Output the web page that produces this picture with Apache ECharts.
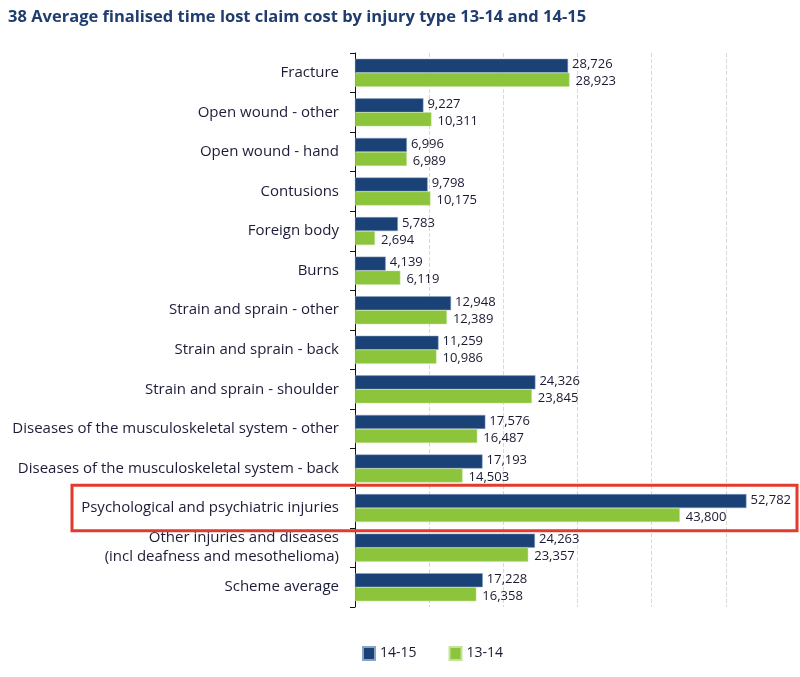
<!DOCTYPE html>
<html><head><meta charset="utf-8">
<script src="https://cdn.jsdelivr.net/npm/echarts@6/dist/echarts.min.js"></script>
<style>html,body{margin:0;padding:0;background:#fff}#c{width:800px;height:677px}</style>
</head><body><div id="c"></div>
<script>
const categories = [
  "Fracture","Open wound - other","Open wound - hand","Contusions","Foreign body","Burns",
  "Strain and sprain - other","Strain and sprain - back","Strain and sprain - shoulder",
  "Diseases of the musculoskeletal system - other","Diseases of the musculoskeletal system - back",
  "Psychological and psychiatric injuries",
  "Other injuries and diseases\n(incl deafness and mesothelioma)","Scheme average"
];
const v1415 = [28726,9227,6996,9798,5783,4139,12948,11259,24326,17576,17193,52782,24263,17228];
const v1314 = [28923,10311,6989,10175,2694,6119,12389,10986,23845,16487,14503,43800,23357,16358];
const seriesNames = ["14-15","13-14"];
const highlighted = "Psychological and psychiatric injuries";

const chart = echarts.init(document.getElementById('c'));
const fmt = p => p.value.toLocaleString('en-US');
const font = "'Open Sans', 'Noto Sans', sans-serif";
chart.setOption({
  animation:false,
  title:{text:"38 Average finalised time lost claim cost by injury type 13-14 and 14-15",left:3,top:4,
    textStyle:{fontFamily:font,fontSize:16.5,fontWeight:'bold',color:'#1f3d6e'}},
  grid:{left:355,right:0,top:53,bottom:70,containLabel:false},
  legend:{bottom:11,left:357,itemWidth:12,itemHeight:13,itemGap:32,icon:'rect',
    textStyle:{fontFamily:font,fontSize:14,color:'#1a1a33'},data:seriesNames},
  xAxis:{type:'value',min:0,max:60000,interval:10000,axisLabel:{show:false},axisLine:{show:false},axisTick:{show:false},
    splitLine:{show:true,lineStyle:{type:'dashed',color:'#d8d8d8',width:1}}},
  yAxis:{type:'category',data:categories,inverse:true,
    axisLine:{show:true,lineStyle:{color:'#111',width:1}},
    axisTick:{show:true,length:5,lineStyle:{color:'#111'}},
    axisLabel:{fontFamily:font,fontSize:15,color:'#1c1c38',margin:16,lineHeight:19}},
  series:[
    {name:seriesNames[0],type:'bar',data:v1415,barWidth:14,barGap:'0%',
     itemStyle:{color:'#1b4277',borderColor:'#8aa2c4',borderWidth:0.5},
     label:{show:true,position:'right',distance:4,formatter:fmt,fontFamily:font,fontSize:13,color:'#1a1a33',offset:[0,-1]}},
    {name:seriesNames[1],type:'bar',data:v1314,barWidth:14,
     itemStyle:{color:'#8cc43c',borderColor:'#c4e29c',borderWidth:0.5},
     label:{show:true,position:'right',distance:6,formatter:fmt,fontFamily:font,fontSize:13,color:'#1a1a33',offset:[0,2]}}
  ]
});
const idx = categories.indexOf(highlighted);
const yTop = chart.convertToPixel({yAxisIndex:0}, idx);
const band = 554/categories.length;
chart.setOption({graphic:[{type:'rect',shape:{x:72,y:yTop-band/2-3,width:725,height:band+6},
  style:{fill:'none',stroke:'#e23a2c',lineWidth:3},z:100}]});
</script></body></html>
